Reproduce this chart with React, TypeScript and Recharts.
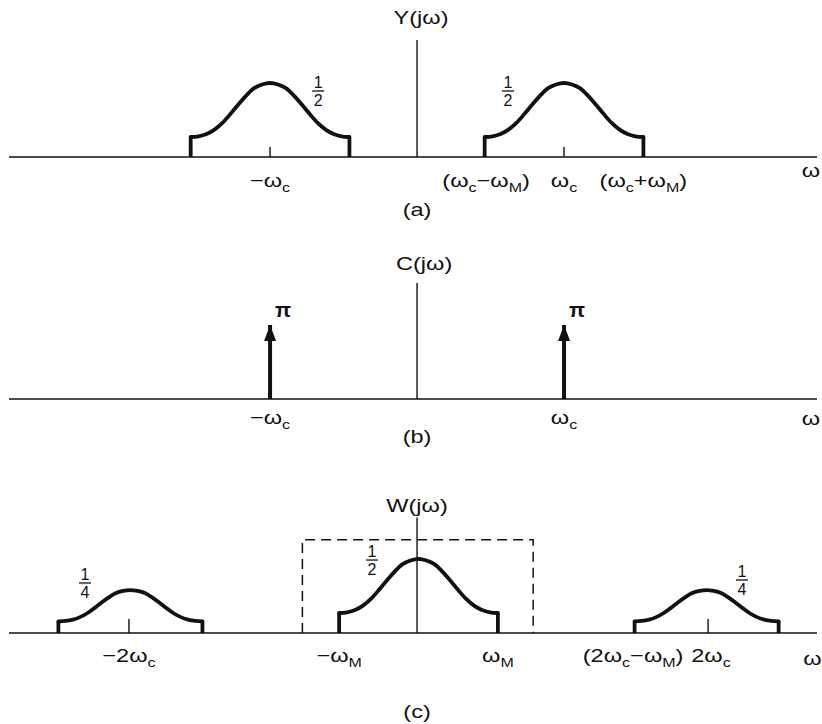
import {
  ComposedChart,
  Line,
  XAxis,
  YAxis,
  ReferenceLine,
  ReferenceDot,
} from 'recharts'

const FONT = '"Liberation Sans", Arial, Helvetica, sans-serif'
const INK = '#111'
const STRETCH = 1.24

// frequency axis, in units of ωc
const X_MIN = -2.776
const X_MAX = 2.721

// outline of one spectrum band:
// offset from the band centre (in half widths) and height (share of the peak)
const SHAPE_U = [-1, -0.9, -0.8, -0.7, -0.6, -0.5, -0.4, -0.3, -0.2, -0.1, 0, 0.1, 0.2, 0.3, 0.4, 0.5, 0.6, 0.7, 0.8, 0.9, 1]
const SHAPE_H = [0.27, 0.28, 0.31, 0.37, 0.46, 0.58, 0.71, 0.83, 0.93, 0.98, 1, 0.98, 0.93, 0.83, 0.71, 0.58, 0.46, 0.37, 0.31, 0.28, 0.27]

// (a) Y(jω)
const Y_CENTERS = [-1, 1]
const Y_HALF = [0.54, 0.54]
const Y_PEAKS = [0.5, 0.5]
const Y_AXIS_TOP = 0.79
const Y_TICKS = [-1, 0.47, 1, 1.54, 2.68]
const Y_LABELS = ['−ω_c', '(ω_c−ω_M)', 'ω_c', '(ω_c+ω_M)', 'ω']
const Y_MARKED = [-1, 1]
const Y_FRAC_X = [-0.673, 0.619]
const Y_FRAC_Y = [0.446, 0.446]
const Y_FRAC_TEXT = ['1/2', '1/2']

// (b) C(jω)
const C_IMPULSES = [-1, 1]
const C_AREA = Math.PI
const C_AXIS_TOP = 4.92
const C_TICKS = [-1, 1, 2.68]
const C_LABELS = ['−ω_c', 'ω_c', 'ω']

// (c) W(jω)
const W_CENTERS = [-1.95, 0.01, 1.97]
const W_HALF = [0.49, 0.54, 0.49]
const W_PEAKS = [0.29, 0.5, 0.29]
const W_AXIS_TOP = 0.78
const LOWPASS_EDGES = [-0.78, 0.79]
const LOWPASS_GAIN = 0.63
const W_TICKS = [-1.96, -0.53, 0.55, 1.47, 2.0, 2.69]
const W_LABELS = ['−2ω_c', '−ω_M', 'ω_M', '(2ω_c−ω_M)', '2ω_c', 'ω']
const W_MARKED = [-1.96, 1.98]
const W_FRAC_X = [-2.259, -0.306, 2.211]
const W_FRAC_Y = [0.338, 0.493, 0.358]
const W_FRAC_TEXT = ['1/4', '1/2', '1/4']

function band(center: number, half: number, peak: number) {
  return SHAPE_U.map((u, i) => ({ x: center + u * half, y: peak * SHAPE_H[i] }))
}

function MathText({ x, y, text, size = 19 }: any) {
  const parts = text.split(/(_.)/).filter(Boolean)
  let lowered = false
  const spans = parts.map((p: string, i: number) => {
    if (p[0] === '_') {
      lowered = true
      return (
        <tspan key={i} dy={5} fontSize={size * 0.68}>
          {p[1]}
        </tspan>
      )
    }
    const dy = lowered ? -5 : 0
    lowered = false
    return (
      <tspan key={i} dy={dy}>
        {p}
      </tspan>
    )
  })
  return (
    <text
      transform={`translate(${x},${y}) scale(${STRETCH},1)`}
      textAnchor="middle"
      fontFamily={FONT}
      fontSize={size}
      fill={INK}
    >
      {spans}
    </text>
  )
}

function Fraction({ cx, cy, text }: any) {
  const [num, den] = text.split('/')
  return (
    <g fontFamily={FONT} fontSize={16} fill={INK} textAnchor="middle">
      <text x={cx} y={cy - 3}>{num}</text>
      <line x1={cx - 6} x2={cx + 6} y1={cy} y2={cy} stroke={INK} strokeWidth={1.3} />
      <text x={cx} y={cy + 15}>{den}</text>
    </g>
  )
}

function FreqTick(props: any) {
  const { x, y, payload, ticks, labels, marked, markLen, labelDy, nameDy } = props
  const i = ticks.indexOf(payload.value)
  if (i < 0) return null
  const last = i === ticks.length - 1
  return (
    <g>
      <MathText x={x} y={y + (last ? nameDy : labelDy)} text={labels[i]} />
    </g>
  )
}

function Panel(props: any) {
  const {
    height, top, axisHeight, yMax, ticks, labels, marked = [], markLen = 10,
    labelDy, nameDy, axisTop, title, titleX = 0, titleGap, caption, captionDy, children,
  } = props
  return (
    <ComposedChart width={822} height={height} margin={{ top, right: 5, bottom: 0, left: 9 }}>
      <XAxis
        type="number"
        dataKey="x"
        domain={[X_MIN, X_MAX]}
        allowDataOverflow
        ticks={ticks}
        interval={0}
        height={axisHeight}
        tickSize={0}
        tickMargin={0}
        tickLine={false}
        axisLine={{ stroke: INK, strokeWidth: 1.5 }}
        tick={(p: any) => (
          <FreqTick {...p} ticks={ticks} labels={labels} marked={marked} markLen={markLen} labelDy={labelDy} nameDy={nameDy} />
        )}
      />
      <YAxis type="number" hide domain={[0, yMax]} allowDataOverflow />
      <ReferenceLine segment={[{ x: 0, y: 0 }, { x: 0, y: axisTop }]} stroke={INK} strokeWidth={1.4} />
      {marked.map((m: number) => (
        <ReferenceDot
          key={`mark-${m}`}
          x={m}
          y={0}
          shape={(p: any) => <line x1={p.cx} x2={p.cx} y1={p.cy - markLen} y2={p.cy} stroke={INK} strokeWidth={1.4} />}
        />
      ))}
      <ReferenceDot
        x={titleX}
        y={axisTop}
        shape={(p: any) => <MathText x={p.cx} y={p.cy - titleGap} text={title} />}
      />
      <ReferenceDot
        x={0}
        y={0}
        shape={(p: any) => <MathText x={p.cx} y={p.cy + captionDy} text={caption} />}
      />
      {children}
    </ComposedChart>
  )
}

function bands(centers: number[], halves: number[], peaks: number[], key: string) {
  const out: any[] = []
  centers.forEach((c, i) => {
    const edge = peaks[i] * SHAPE_H[0]
    out.push(
      <Line
        key={`${key}-curve-${i}`}
        data={band(c, halves[i], peaks[i])}
        dataKey="y"
        type="monotone"
        stroke={INK}
        strokeWidth={3.8}
        strokeLinecap="round"
        dot={false}
        activeDot={false}
        isAnimationActive={false}
      />
    )
    ;[c - halves[i], c + halves[i]].forEach((ex, j) =>
      out.push(
        <ReferenceLine
          key={`${key}-edge-${i}-${j}`}
          segment={[{ x: ex, y: 0 }, { x: ex, y: edge }]}
          stroke={INK}
          strokeWidth={3.8}
        />
      )
    )
  })
  return out
}

function fractions(xs: number[], ys: number[], texts: string[], key: string) {
  return xs.map((x, i) => (
    <ReferenceDot
      key={`${key}-frac-${i}`}
      x={x}
      y={ys[i]}
      shape={(p: any) => <Fraction cx={p.cx} cy={p.cy} text={texts[i]} />}
    />
  ))
}

export default function App() {
  return (
    <div style={{ position: 'absolute', left: 0, top: 0, width: 822, height: 724, background: '#fff' }}>
      <Panel
        height={228}
        top={9}
        axisHeight={71}
        yMax={1}
        ticks={Y_TICKS}
        labels={Y_LABELS}
        marked={Y_MARKED}
        markLen={10}
        labelDy={30}
        nameDy={20}
        axisTop={Y_AXIS_TOP}
        title="Y(jω)"
        titleX={0.027}
        titleGap={16}
        caption="(a)"
        captionDy={59}
      >
        {bands(Y_CENTERS, Y_HALF, Y_PEAKS, 'y')}
        {fractions(Y_FRAC_X, Y_FRAC_Y, Y_FRAC_TEXT, 'y')}
      </Panel>
      <Panel
        height={232}
        top={23}
        axisHeight={61}
        yMax={2 * Math.PI}
        ticks={C_TICKS}
        labels={C_LABELS}
        labelDy={25}
        nameDy={26}
        axisTop={C_AXIS_TOP}
        title="C(jω)"
        titleX={0.048}
        titleGap={13}
        caption="(b)"
        captionDy={44}
      >
        {C_IMPULSES.map((x, i) => (
          <ReferenceLine
            key={`c-shaft-${i}`}
            segment={[{ x, y: 0 }, { x, y: C_AREA }]}
            stroke={INK}
            strokeWidth={4}
          />
        ))}
        {C_IMPULSES.map((x, i) => (
          <ReferenceDot
            key={`c-head-${i}`}
            x={x}
            y={C_AREA}
            shape={(p: any) => (
              <g>
                <path d={`M${p.cx},${p.cy} L${p.cx - 6},${p.cy + 16} L${p.cx + 6},${p.cy + 16} Z`} fill={INK} />
                <text x={p.cx + 13} y={p.cy - 8} textAnchor="middle" fontFamily={FONT} fontSize={21} fontWeight="bold" fill={INK}>
                  π
                </text>
              </g>
            )}
          />
        ))}
      </Panel>
      <Panel
        height={264}
        top={25}
        axisHeight={91}
        yMax={1}
        ticks={W_TICKS}
        labels={W_LABELS}
        marked={W_MARKED}
        markLen={14}
        labelDy={29}
        nameDy={32}
        axisTop={W_AXIS_TOP}
        title="W(jω)"
        titleGap={6}
        caption="(c)"
        captionDy={85}
      >
        <Line
          data={[
            { x: LOWPASS_EDGES[0], y: 0 },
            { x: LOWPASS_EDGES[0], y: LOWPASS_GAIN },
            { x: LOWPASS_EDGES[1], y: LOWPASS_GAIN },
            { x: LOWPASS_EDGES[1], y: 0 },
          ]}
          dataKey="y"
          type="linear"
          stroke={INK}
          strokeWidth={1.5}
          strokeDasharray="10 6"
          dot={false}
          activeDot={false}
          isAnimationActive={false}
        />
        {bands(W_CENTERS, W_HALF, W_PEAKS, 'w')}
        {fractions(W_FRAC_X, W_FRAC_Y, W_FRAC_TEXT, 'w')}
      </Panel>
    </div>
  )
}
